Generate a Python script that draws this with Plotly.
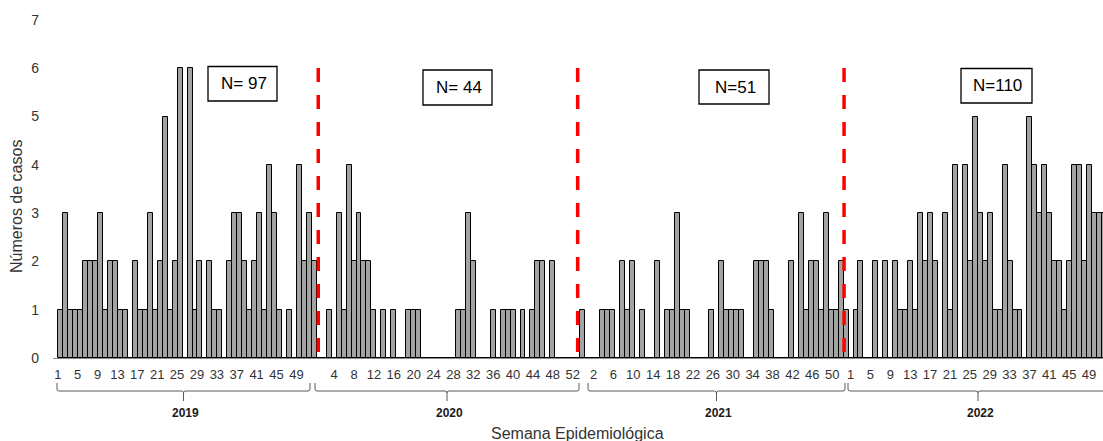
import plotly.graph_objects as go

# ---------------- data (cases per epidemiological week) ----------------
cases_2019 = [1, 3, 1, 1, 1, 2, 2, 2, 3, 1, 2, 2, 1, 1, 0, 2, 1, 1, 3, 1,
              2, 5, 1, 2, 6, 0, 6, 1, 2, 0, 2, 1, 1, 0, 2, 3, 3, 2, 1, 2,
              3, 1, 4, 3, 1, 0, 1, 0, 4, 2, 3, 2]
cases_2020 = [0, 0, 1, 0, 3, 1, 4, 2, 3, 2, 2, 1, 0, 1, 0, 1, 0, 0, 1, 1,
              1, 0, 0, 0, 0, 0, 0, 0, 1, 1, 3, 2, 0, 0, 0, 1, 0, 1, 1, 1,
              0, 1, 0, 1, 2, 2, 0, 2, 0, 0, 0, 0, 0, 1]
cases_2021 = [0, 0, 0, 1, 1, 1, 0, 2, 1, 2, 0, 1, 0, 0, 2, 0, 1, 1, 3, 1,
              1, 0, 0, 0, 0, 1, 0, 2, 1, 1, 1, 1, 0, 0, 2, 2, 2, 1, 0, 0,
              0, 2, 0, 3, 1, 2, 2, 1, 3, 1, 1, 2, 1]
cases_2022 = [0, 1, 2, 0, 0, 2, 0, 2, 0, 2, 1, 1, 2, 1, 3, 2, 3, 2, 0, 3,
              1, 4, 0, 4, 2, 5, 3, 2, 3, 1, 1, 4, 2, 1, 1, 0, 5, 4, 3, 4,
              3, 2, 2, 1, 2, 4, 4, 2, 4, 3, 3, 3]

years = ["2019", "2020", "2021", "2022"]
totals = ["N= 97", "N= 44", "N=51", "N=110"]

labels_2019 = [str(w) for w in range(1, 50, 4)]
labels_2020 = [str(w) for w in range(4, 53, 4)]
labels_2021 = [str(w) for w in range(2, 51, 4)]
labels_2022 = [str(w) for w in range(1, 50, 4)]

values = cases_2019 + cases_2020 + cases_2021 + cases_2022
xs = list(range(len(values)))

# ---------------- layout helpers ----------------
W, H = 1103, 441
PL, PR, PT, PB = 53, 1103, 20, 358


def px(x):
    return (x - PL) / (PR - PL)


def py(y):
    return (PB - y) / (PB - PT)


tick_starts = [-0.6, 55.0, 107.2, 158.9]
tick_groups = [labels_2019, labels_2020, labels_2021, labels_2022]
tickvals, ticktext = [], []
for start, labs in zip(tick_starts, tick_groups):
    for j, lab in enumerate(labs):
        tickvals.append(start + 4 * j)
        ticktext.append(lab)

FONT = "Liberation Sans, Arial, sans-serif"
TXT = "#333333"

fig = go.Figure()
fig.add_trace(go.Bar(
    x=xs, y=values, width=1.0,
    marker=dict(color="#A3A3A3", line=dict(color="#000000", width=1)),
    showlegend=False, hoverinfo="x+y",
))

shapes = []
annotations = []

# red dashed separators
for xv in [51.8, 104.0, 157.6]:
    shapes.append(dict(type="line", xref="x", yref="paper", x0=xv, x1=xv,
                       y0=py(352), y1=py(64),
                       line=dict(color="#FF0000", width=3.5, dash="14px,13px")))

# N boxes
boxes = [(208, 277, 66.5, 101), (423, 492, 70, 105), (699, 769, 70, 104), (961, 1032, 68.5, 103)]
for (x0, x1, y0, y1), txt in zip(boxes, totals):
    shapes.append(dict(type="rect", xref="paper", yref="paper",
                       x0=px(x0), x1=px(x1), y0=py(y1), y1=py(y0),
                       line=dict(color="#000000", width=1.3), fillcolor="white", layer="above"))
    annotations.append(dict(xref="paper", yref="paper", x=px((x0 + x1) / 2 + 1), y=py((y0 + y1) / 2),
                            text=txt, showarrow=False, xanchor="center", yanchor="middle",
                            font=dict(family=FONT, size=17, color="#000000")))

# braces under each year
braces = [(57, 310, 183.5), (315, 579, 447), (588, 845, 716.5), (848, 1108, 978)]
yt, yl, ytip = 383, 391, 401
for (x0, x1, xm), yr in zip(braces, years):
    path = (f"M {px(x0)},{py(yt)} L {px(x0)},{py(yl - 2)} Q {px(x0)},{py(yl)} {px(x0 + 2)},{py(yl)} "
            f"L {px(xm - 2)},{py(yl)} Q {px(xm)},{py(yl)} {px(xm)},{py(yl + 2)} L {px(xm)},{py(ytip)} "
            f"M {px(xm)},{py(yl + 2)} Q {px(xm)},{py(yl)} {px(xm + 2)},{py(yl)} "
            f"L {px(x1 - 2)},{py(yl)} Q {px(x1)},{py(yl)} {px(x1)},{py(yl - 2)} L {px(x1)},{py(yt)}")
    shapes.append(dict(type="path", xref="paper", yref="paper", path=path,
                       line=dict(color="#595959", width=1)))
    annotations.append(dict(xref="paper", yref="paper", x=px(xm + 2), y=py(413), text=f"<b>{yr}</b>",
                            showarrow=False, xanchor="center", yanchor="middle",
                            font=dict(family=FONT, size=12, color="#1a1a1a")))

# axis titles
annotations.append(dict(xref="paper", yref="paper", x=px(577), y=py(433.5), text="Semana Epidemiológica",
                        showarrow=False, xanchor="center", yanchor="middle",
                        font=dict(family=FONT, size=16, color=TXT)))
annotations.append(dict(xref="paper", yref="paper", x=px(16.5), y=py(206.5), text="Números de casos",
                        textangle=-90, showarrow=False, xanchor="center", yanchor="middle",
                        font=dict(family=FONT, size=16, color=TXT)))

fig.update_layout(
    width=W, height=H,
    margin=dict(l=PL, r=W - PR, t=PT, b=H - PB, pad=0),
    paper_bgcolor="white", plot_bgcolor="white",
    bargap=0, showlegend=False,
    font=dict(family=FONT, color=TXT),
    shapes=shapes, annotations=annotations,
    xaxis=dict(range=[-1.57, 209.7], tickmode="array", tickvals=tickvals, ticktext=ticktext,
               tickangle=0, tickfont=dict(size=13, color=TXT), showgrid=False, zeroline=False,
               showline=True, linecolor="#8C8C8C", linewidth=1, ticks="", ticklabelstandoff=4),
    yaxis=dict(range=[0, 7], tickmode="linear", tick0=0, dtick=1, tickfont=dict(size=14, color=TXT),
               showgrid=False, zeroline=False, showline=False, ticks="", ticklabelstandoff=13),
)

fig.write_html("out.html", config={"displayModeBar": False},
               post_script="document.body.style.margin='0';document.body.style.overflow='hidden';")
